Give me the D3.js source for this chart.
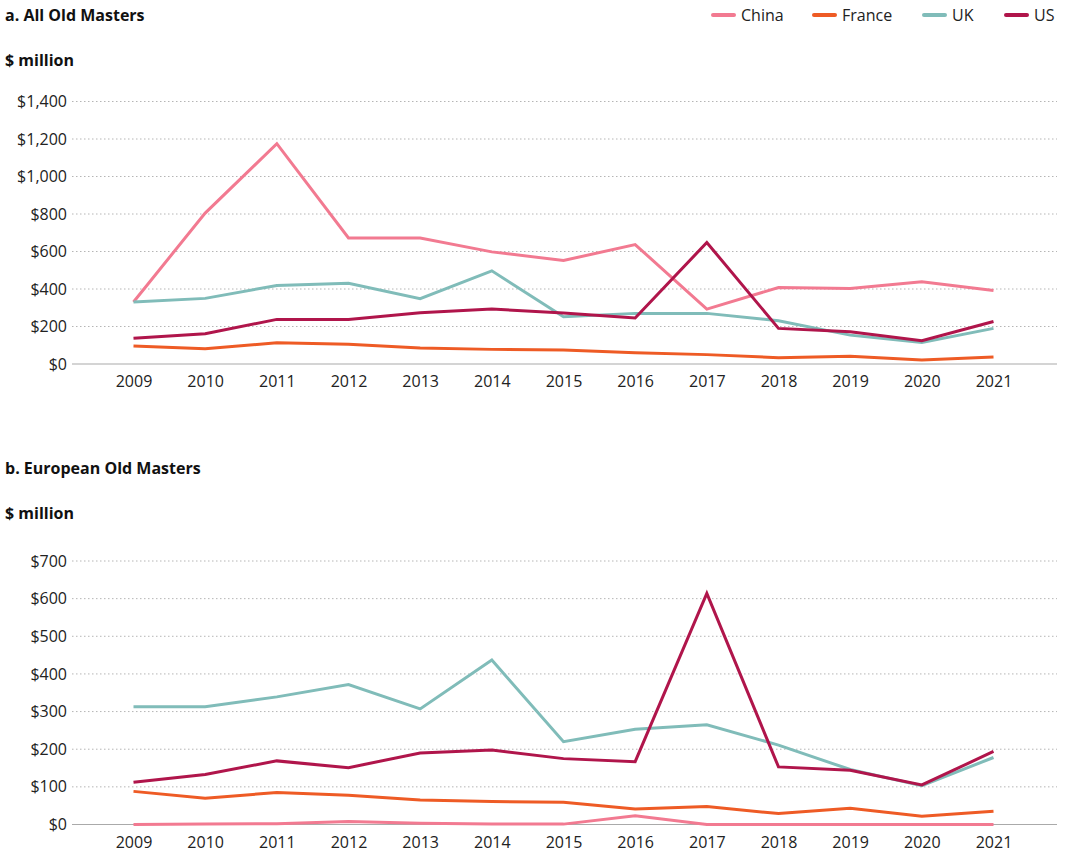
<!DOCTYPE html>
<html>
<head>
<meta charset="utf-8">
<script src="https://cdn.jsdelivr.net/npm/d3@7"></script>
<style>
  body { margin: 0; background: #fff; }
  svg { display: block; font-family: "Open Sans", "Noto Sans", sans-serif; }
</style>
</head>
<body>
<svg id="chart" width="1067" height="854"></svg>
<script>
const years = [2009, 2010, 2011, 2012, 2013, 2014, 2015, 2016, 2017, 2018, 2019, 2020, 2021];
const seriesNames = ["China", "France", "UK", "US"];
const seriesColors = ["#F27A91", "#EE5B25", "#80BCB9", "#B0154B"];

// Panel a: All Old Masters ($ million)
const allChina  = [331, 805, 1175, 672, 672, 598, 552, 637, 293, 408, 403, 438, 392];
const allFrance = [96, 82, 113, 105, 85, 78, 75, 60, 50, 34, 41, 21, 37];
const allUK     = [331, 350, 419, 430, 348, 497, 252, 270, 270, 231, 154, 115, 190];
const allUS     = [137, 161, 238, 238, 273, 293, 272, 245, 648, 190, 172, 124, 227];
const allTicks  = [0, 200, 400, 600, 800, 1000, 1200, 1400];

// Panel b: European Old Masters ($ million)
const euChina  = [0, 1, 2, 8, 3, 1, 1, 23, 0, 0, 0, 0, 0];
const euFrance = [88, 70, 85, 78, 65, 61, 59, 41, 48, 29, 43, 22, 35];
const euUK     = [313, 313, 339, 372, 307, 437, 220, 253, 265, 211, 146, 103, 178];
const euUS     = [112, 133, 169, 151, 190, 198, 175, 167, 614, 153, 144, 105, 194];
const euTicks  = [0, 100, 200, 300, 400, 500, 600, 700];

const svg = d3.select("#chart");
const fmt = d3.format("$,");

const x = d3.scaleLinear().domain([2009, 2021]).range([133.5, 993.5]);
const gridLeft = 72, gridRight = 1057;

function panel(opts) {
  const g = svg.append("g");
  g.append("text").attr("x", 5).attr("y", opts.titleY)
    .attr("font-size", 16).attr("font-weight", 700).attr("fill", "#111")
    .text(opts.title);
  g.append("text").attr("x", 5).attr("y", opts.unitY)
    .attr("font-size", 16).attr("font-weight", 700).attr("fill", "#111")
    .text("$ million");

  const y = d3.scaleLinear().domain([0, opts.ticks[opts.ticks.length - 1]])
    .range([opts.y0, opts.y1]);

  // gridlines
  g.selectAll(".grid").data(opts.ticks.filter(t => t > 0)).join("line")
    .attr("x1", gridLeft).attr("x2", gridRight)
    .attr("y1", d => y(d)).attr("y2", d => y(d))
    .attr("stroke", "#b5b5b5").attr("stroke-width", 1)
    .attr("stroke-dasharray", "1.5,2.5");

  // baseline
  g.append("line").attr("x1", gridLeft).attr("x2", gridRight)
    .attr("y1", y(0)).attr("y2", y(0))
    .attr("stroke", "#aaa").attr("stroke-width", 1.2);

  // y axis labels
  const yAxis = d3.axisLeft(y).tickValues(opts.ticks).tickFormat(fmt).tickSize(0).tickPadding(0);
  const ya = g.append("g").attr("transform", `translate(67,0)`).call(yAxis);
  ya.select(".domain").remove();
  ya.selectAll("text").attr("font-size", 16).attr("fill", "#222")
    .attr("font-family", "'Open Sans', 'Noto Sans', sans-serif");

  // x axis labels
  const xAxis = d3.axisBottom(x).tickValues(years).tickFormat(d3.format("d")).tickSize(0).tickPadding(0);
  const xa = g.append("g").attr("transform", `translate(0,${opts.y0 + 12})`).call(xAxis);
  xa.select(".domain").remove();
  xa.selectAll("text").attr("font-size", 16).attr("fill", "#222")
    .attr("font-family", "'Open Sans', 'Noto Sans', sans-serif");

  const line = d3.line().x((d, i) => x(years[i])).y(d => y(d));
  opts.series.forEach((vals, k) => {
    g.append("path").datum(vals)
      .attr("d", line)
      .attr("fill", "none")
      .attr("stroke", seriesColors[k])
      .attr("stroke-width", 3)
      .attr("stroke-linejoin", "miter")
      .attr("stroke-linecap", "butt");
  });
}

panel({
  title: "a. All Old Masters", titleY: 21, unitY: 66,
  ticks: allTicks, y0: 364, y1: 101.5,
  series: [allChina, allFrance, allUK, allUS]
});
panel({
  title: "b. European Old Masters", titleY: 474, unitY: 519,
  ticks: euTicks, y0: 824.5, y1: 561,
  series: [euChina, euFrance, euUK, euUS]
});

// legend
const legendX = [713, 814, 924, 1006];
const lg = svg.append("g");
seriesNames.forEach((name, k) => {
  lg.append("line").attr("x1", legendX[k]).attr("x2", legendX[k] + 21)
    .attr("y1", 15).attr("y2", 15)
    .attr("stroke", seriesColors[k]).attr("stroke-width", 4).attr("stroke-linecap", "round");
  lg.append("text").attr("x", legendX[k] + 28).attr("y", 21)
    .attr("font-size", 16).attr("fill", "#222").text(name);
});
</script>
</body>
</html>
